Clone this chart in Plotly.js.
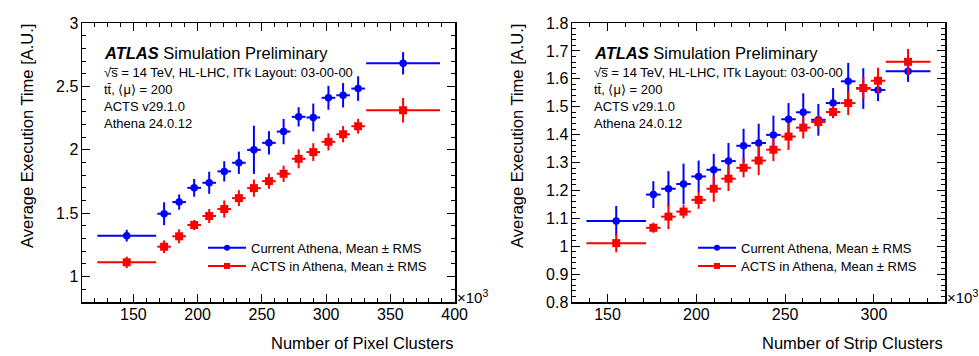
<!DOCTYPE html>
<html>
<head>
<meta charset="utf-8">
<script src="https://cdn.plot.ly/plotly-3.0.1.min.js"></script>
<style>html,body{margin:0;padding:0;background:#fff;}#chart{width:979px;height:356px;}</style>
</head>
<body>
<div id="chart"></div>
<script>
// ---------- Data (x in units of 10^3 clusters) ----------
// Left panel: Pixel clusters
const pixX      = [144.8, 173.9, 185.6, 197.3, 209.0, 220.7, 232.1, 243.8, 255.5, 266.9, 278.6, 290.0, 301.8, 313.2, 324.9, 359.9];
const pixXerr   = [22.9, 5.3, 5.3, 5.3, 5.3, 5.3, 5.3, 5.3, 5.3, 5.3, 5.3, 5.3, 5.3, 5.3, 5.3, 28.75];
const pixAthena    = [1.323, 1.496, 1.588, 1.700, 1.740, 1.830, 1.898, 2.000, 2.055, 2.144, 2.260, 2.255, 2.410, 2.430, 2.483, 2.682];
const pixAthenaErr = [0.046, 0.090, 0.060, 0.070, 0.087, 0.080, 0.088, 0.190, 0.092, 0.100, 0.076, 0.110, 0.094, 0.096, 0.097, 0.088];
const pixActs      = [1.113, 1.236, 1.318, 1.407, 1.478, 1.533, 1.619, 1.698, 1.753, 1.811, 1.929, 1.982, 2.063, 2.123, 2.186, 2.312];
const pixActsErr   = [0.045, 0.050, 0.055, 0.040, 0.055, 0.068, 0.063, 0.068, 0.060, 0.064, 0.075, 0.070, 0.068, 0.064, 0.058, 0.097];

// Right panel: Strip clusters
const stripX    = [154.9, 175.8, 184.3, 192.8, 201.3, 209.8, 218.1, 226.6, 235.1, 243.4, 251.9, 260.2, 268.7, 277.0, 285.5, 294.0, 302.3, 319.2];
const stripXerr = [16.8, 4.1, 4.1, 4.1, 4.1, 4.1, 4.1, 4.1, 4.1, 4.1, 4.1, 4.1, 4.1, 4.1, 4.1, 4.1, 4.1, 12.6];
const stripAthena    = [1.090, 1.185, 1.206, 1.223, 1.250, 1.274, 1.305, 1.360, 1.370, 1.399, 1.455, 1.480, 1.453, 1.513, 1.591, 1.565, 1.560, 1.627];
const stripAthenaErr = [0.054, 0.048, 0.063, 0.073, 0.057, 0.057, 0.065, 0.061, 0.069, 0.069, 0.058, 0.068, 0.057, 0.054, 0.066, 0.073, 0.040, 0.038];
const stripActs      = [1.011, 1.066, 1.106, 1.124, 1.166, 1.206, 1.242, 1.281, 1.307, 1.346, 1.393, 1.425, 1.445, 1.481, 1.513, 1.567, 1.593, 1.661];
const stripActsErr   = [0.033, 0.018, 0.045, 0.024, 0.032, 0.047, 0.044, 0.034, 0.052, 0.041, 0.048, 0.039, 0.024, 0.020, 0.043, 0.040, 0.047, 0.046];

const nameAthena = "Current Athena, Mean ± RMS";
const nameActs   = "ACTS in Athena, Mean ± RMS";
const infoLines  = ["√s\u0305 = 14 TeV, HL-LHC, ITk Layout: 03-00-00", "tt\u0304, ⟨μ⟩ = 200", "ACTS v29.1.0", "Athena 24.0.12"];

// ---------- Styling ----------
const W = 979, H = 356;
const FONT = "Liberation Sans, Arial, Helvetica, sans-serif";
const BLUE = "#0000ff", RED = "#ff0000";
const px = v => v / W;
const py = v => 1 - v / H;

function dataTrace(x, xe, y, ye, color, symbol, xa, ya) {
  return {
    type: "scatter", mode: "markers", x: x, y: y, xaxis: xa, yaxis: ya,
    showlegend: false, hoverinfo: "skip",
    marker: {color: color, symbol: symbol, size: symbol === "square" ? 8 : 7.5},
    error_x: {type: "data", array: xe, visible: true, color: color, thickness: 2, width: 0},
    error_y: {type: "data", array: ye, visible: true, color: color, thickness: 2, width: 0}
  };
}
function legendTrace(name, color, symbol, xa, ya, leg) {
  return {
    type: "scatter", mode: "lines+markers", x: [null], y: [null], xaxis: xa, yaxis: ya,
    name: name, legend: leg, showlegend: true,
    line: {color: color, width: 2},
    marker: {color: color, symbol: symbol, size: 6}
  };
}

const traces = [
  dataTrace(pixX, pixXerr, pixAthena, pixAthenaErr, BLUE, "circle", "x", "y"),
  dataTrace(pixX, pixXerr, pixActs, pixActsErr, RED, "square", "x", "y"),
  dataTrace(stripX, stripXerr, stripAthena, stripAthenaErr, BLUE, "circle", "x2", "y2"),
  dataTrace(stripX, stripXerr, stripActs, stripActsErr, RED, "square", "x2", "y2"),
  legendTrace(nameAthena, BLUE, "circle", "x", "y", "legend"),
  legendTrace(nameActs, RED, "square", "x", "y", "legend2"),
  legendTrace(nameAthena, BLUE, "circle", "x2", "y2", "legend3"),
  legendTrace(nameActs, RED, "square", "x2", "y2", "legend4")
];

function axisBase(extra) {
  return Object.assign({
    showline: true, linecolor: "#000", linewidth: 1.5, mirror: "allticks",
    ticks: "inside", ticklen: 8, tickwidth: 1, tickcolor: "#000",
    showgrid: false, zeroline: false,
    tickfont: {family: FONT, size: 16, color: "#000"},
    fixedrange: true
  }, extra);
}
function legendAt(xLine, yMid) {
  return {x: px(xLine - 5), y: py(yMid), xanchor: "left", yanchor: "middle", bgcolor: "rgba(0,0,0,0)",
    font: {family: FONT, size: 13, color: "#000"}, itemwidth: 38, itemclick: false, borderwidth: 0};
}

const yDom = [py(302), py(23)];
const layout = {
  width: W, height: H,
  margin: {l: 0, r: 0, t: 0, b: 0},
  paper_bgcolor: "#fff", plot_bgcolor: "#fff",
  font: {family: FONT, color: "#000"},
  xaxis: axisBase({domain: [px(82), px(455)], range: [110, 400.3], anchor: "y", tick0: 0, dtick: 50, ticklabelstandoff: -3,
    minor: {dtick: 10, ticks: "inside", ticklen: 4, tickcolor: "#000", tickwidth: 1}}),
  yaxis: axisBase({domain: yDom, range: [0.8, 3], anchor: "x", tick0: 0, dtick: 0.5, ticklabelstandoff: -1,
    minor: {dtick: 0.1, ticks: "inside", ticklen: 4, tickcolor: "#000", tickwidth: 1}}),
  xaxis2: axisBase({domain: [px(572), px(945)], range: [130, 340], anchor: "y2", tick0: 0, dtick: 50, ticklabelstandoff: -3,
    minor: {dtick: 10, ticks: "inside", ticklen: 4, tickcolor: "#000", tickwidth: 1}}),
  yaxis2: axisBase({domain: yDom, range: [0.8, 1.8], anchor: "x2", tick0: 0, dtick: 0.1, ticklabelstandoff: -1,
    minor: {dtick: 0.02, ticks: "inside", ticklen: 4, tickcolor: "#000", tickwidth: 1}}),
  legend: legendAt(208, 247.7),
  legend2: legendAt(208, 266),
  legend3: legendAt(698, 247.7),
  legend4: legendAt(698, 266),
  annotations: []
};

const offsets = [0, 490];
const xTitles = ["Number of Pixel Clusters", "Number of Strip Clusters"];
const xRight = [455, 945];
offsets.forEach((o, i) => {
  layout.annotations.push({xref: "paper", yref: "paper", x: px(o + 102), y: py(53), xanchor: "left", yanchor: "middle",
    showarrow: false, text: "<b><i>ATLAS</i></b> Simulation Preliminary", font: {family: FONT, size: 16.5, color: "#000"}});
  const ys = [72, 89, 106.5, 124];
  infoLines.forEach((t, k) => {
    layout.annotations.push({xref: "paper", yref: "paper", x: px(o + 102), y: py(ys[k]), xanchor: "left", yanchor: "middle",
      showarrow: false, text: t, font: {family: FONT, size: 13, color: "#000"}});
  });
  layout.annotations.push({xref: "paper", yref: "paper", x: px(o + 27), y: py(22), xanchor: "center", yanchor: "top",
    textangle: -90, showarrow: false, text: "Average Execution Time [A.U.]", font: {family: FONT, size: 16.5, color: "#000"}});
  layout.annotations.push({xref: "paper", yref: "paper", x: px(xRight[i]), y: py(343), xanchor: "right", yanchor: "middle",
    showarrow: false, text: xTitles[i], font: {family: FONT, size: 16.5, color: "#000"}});
  layout.annotations.push({xref: "paper", yref: "paper", x: px(xRight[i]), y: py(296), xanchor: "left", yanchor: "middle",
    showarrow: false, text: "×10<sup>3</sup>", font: {family: FONT, size: 15, color: "#000"}});
});

Plotly.newPlot("chart", traces, layout, {displayModeBar: false, staticPlot: true});
</script>
</body>
</html>
